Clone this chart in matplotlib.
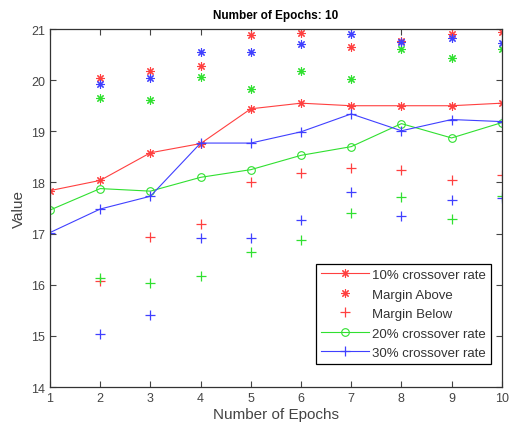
import matplotlib
matplotlib.use("Agg")
import matplotlib.pyplot as plt
import numpy as np

plt.rcParams['font.family'] = ['Liberation Sans', 'DejaVu Sans']

# data
epochs = np.arange(1, 11)
rate10 = [17.84, 18.04, 18.58, 18.76, 19.44, 19.55, 19.50, 19.50, 19.50, 19.55]
rate10_above = [np.nan, 20.05, 20.18, 20.28, 20.88, 20.93, 20.64, 20.77, 20.90, 20.95]
rate10_below = [np.nan, 16.07, 16.94, 17.18, 18.01, 18.18, 18.29, 18.25, 18.05, 18.15]
rate20 = [17.46, 17.88, 17.83, 18.10, 18.25, 18.53, 18.70, 19.15, 18.87, 19.17]
rate20_above = [np.nan, 19.65, 19.62, 20.06, 19.83, 20.18, 20.02, 20.61, 20.43, 20.61]
rate20_below = [np.nan, 16.14, 16.03, 16.17, 16.64, 16.88, 17.40, 17.71, 17.28, 17.74]
rate30 = [17.02, 17.48, 17.73, 18.77, 18.77, 18.99, 19.34, 19.01, 19.23, 19.19]
rate30_above = [np.nan, 19.92, 20.05, 20.56, 20.56, 20.71, 20.90, 20.74, 20.82, 20.72]
rate30_below = [np.nan, 15.03, 15.40, 16.91, 16.91, 17.27, 17.82, 17.35, 17.65, 17.70]

ast = (8, 2, 0)  # MATLAB-like asterisk
red, green, blue = '#ff4040', '#30e030', '#4040ff'

fig = plt.figure(figsize=(5.1, 4.35), dpi=100)
ax = fig.add_axes([0.098, 0.108, 0.886, 0.823])

ax.plot(epochs, rate10, color=red, lw=0.8, marker=ast, ms=6, mew=0.8,
        label='10% crossover rate')
ax.plot(epochs, rate10_above, ls='none', color=red, marker=ast, ms=6, mew=0.8,
        label='Margin Above')
ax.plot(epochs, rate10_below, ls='none', color=red, marker='+', ms=7.5, mew=0.9,
        label='Margin Below')
ax.plot(epochs, rate20, color=green, lw=0.8, marker='o', ms=5.5, mfc='none', mew=0.8,
        label='20% crossover rate')
ax.plot(epochs, rate30, color=blue, lw=0.8, marker='+', ms=7.5, mew=0.9,
        label='30% crossover rate')
ax.plot(epochs, rate20_above, ls='none', color=green, marker=ast, ms=6, mew=0.8)
ax.plot(epochs, rate20_below, ls='none', color=green, marker='+', ms=7.5, mew=0.9)
ax.plot(epochs, rate30_above, ls='none', color=blue, marker=ast, ms=6, mew=0.8)
ax.plot(epochs, rate30_below, ls='none', color=blue, marker='+', ms=7.5, mew=0.9)

ax.set_xlim(1, 10)
ax.set_ylim(14, 21)
ax.set_xticks(epochs)
ax.set_yticks(range(14, 22))
ax.tick_params(direction='in', top=True, right=True, labelsize=9, length=4, color='#444444',
               labelcolor='#444444')
for s in ax.spines.values():
    s.set_color('#333333')
    s.set_linewidth(0.9)

ax.set_xlabel('Number of Epochs', fontsize=11, color='#444444', labelpad=2)
ax.set_ylabel('Value', fontsize=11, color='#444444')
ax.set_title('Number of Epochs: 10', fontsize=8.5, fontweight='bold', pad=8)

leg = ax.legend(loc='lower right', bbox_to_anchor=(0.99, 0.045), fontsize=9.5,
                fancybox=False, framealpha=1, edgecolor='black', handlelength=3.6,
                handletextpad=0.2, borderpad=0.4, labelspacing=0.55)
leg.get_frame().set_linewidth(0.9)
for t in leg.get_texts():
    t.set_color('#333333')

fig.savefig('out.png', dpi=100)
